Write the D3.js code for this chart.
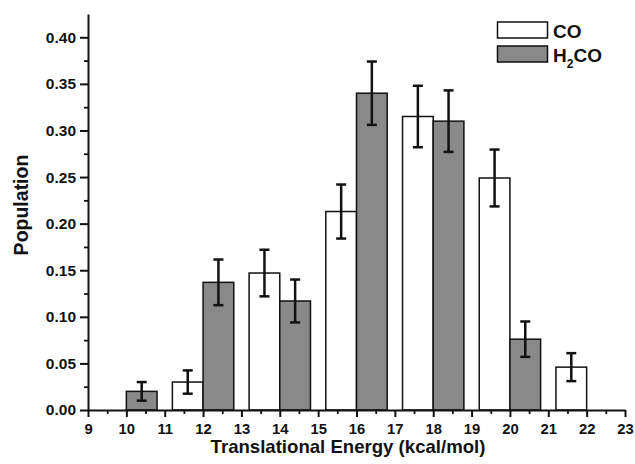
<!DOCTYPE html>
<html>
<head>
<meta charset="utf-8">
<script src="https://cdnjs.cloudflare.com/ajax/libs/d3/7.8.5/d3.min.js"></script>
<style>
  body { margin: 0; background: #fff; }
  svg { display: block; }
  text { font-family: "Liberation Sans", Arial, sans-serif; font-weight: bold; fill: #111; }
  .axis path.domain { stroke: #111; stroke-width: 2; }
  .axis .tick line { stroke: #111; stroke-width: 2; }
  .axis .tick text { font-size: 15.5px; }
  .axis.xa .tick text { font-size: 14.8px; }
  .minor path.domain { display: none; }
  .minor .tick line { stroke: #111; stroke-width: 1.8; }
</style>
</head>
<body>
<svg id="chart" width="635" height="464"></svg>
<script>
// bar centres (kcal/mol), populations and error half-widths
var coEnergy   = [11.6, 13.6, 15.6, 17.6, 19.6, 21.6];
var coPop      = [0.030, 0.147, 0.213, 0.315, 0.249, 0.046];
var coErr      = [0.0125, 0.025, 0.029, 0.033, 0.0305, 0.015];

var h2coEnergy = [10.4, 12.4, 14.4, 16.4, 18.4, 20.4];
var h2coPop    = [0.020, 0.137, 0.117, 0.340, 0.310, 0.076];
var h2coErr    = [0.010, 0.0245, 0.023, 0.034, 0.033, 0.019];

var xTicks = [9, 10, 11, 12, 13, 14, 15, 16, 17, 18, 19, 20, 21, 22, 23];
var yTicks = [0, 0.05, 0.10, 0.15, 0.20, 0.25, 0.30, 0.35, 0.40];
var barWidth = 0.8;

var svg = d3.select("#chart");

var x = d3.scaleLinear().domain([9, 23]).range([88, 625]);
var y = d3.scaleLinear().domain([0, 0.425]).range([410, 14]);

var series = [
  { name: "CO", fill: "#ffffff", energy: coEnergy, pop: coPop, err: coErr },
  { name: "H2CO", fill: "#898989", energy: h2coEnergy, pop: h2coPop, err: h2coErr }
];

series.forEach(s => {
  var rows = s.energy.map((e, i) => ({ e: e, v: s.pop[i], d: s.err[i] }));
  var g = svg.append("g");
  g.selectAll("rect").data(rows).enter().append("rect")
    .attr("x", d => x(d.e - barWidth / 2))
    .attr("width", d => x(d.e + barWidth / 2) - x(d.e - barWidth / 2))
    .attr("y", d => y(d.v))
    .attr("height", d => y(0) - y(d.v))
    .attr("fill", s.fill)
    .attr("stroke", "#111")
    .attr("stroke-width", 1.5);

  var eb = g.selectAll("g.err").data(rows).enter().append("g").attr("class", "err")
    .attr("stroke", "#111").attr("stroke-width", 2.5);
  eb.append("line")
    .attr("x1", d => x(d.e)).attr("x2", d => x(d.e))
    .attr("y1", d => y(d.v + d.d)).attr("y2", d => y(d.v - d.d));
  eb.append("line")
    .attr("x1", d => x(d.e) - 5).attr("x2", d => x(d.e) + 5)
    .attr("y1", d => y(d.v + d.d)).attr("y2", d => y(d.v + d.d));
  eb.append("line")
    .attr("x1", d => x(d.e) - 5).attr("x2", d => x(d.e) + 5)
    .attr("y1", d => y(d.v - d.d)).attr("y2", d => y(d.v - d.d));
});

// minor ticks
svg.append("g").attr("class", "minor")
  .attr("transform", "translate(0,410)")
  .call(d3.axisBottom(x).tickValues(d3.range(9.5, 23, 1)).tickSize(4).tickFormat(""));
svg.append("g").attr("class", "minor")
  .attr("transform", "translate(88,0)")
  .call(d3.axisLeft(y).tickValues(d3.range(0.025, 0.42, 0.05)).tickSize(4).tickFormat(""));

// major axes
svg.append("g").attr("class", "axis xa")
  .attr("transform", "translate(0,410)")
  .call(d3.axisBottom(x).tickValues(xTicks).tickSize(7).tickPadding(6).tickSizeOuter(0).tickFormat(d3.format("d")));
svg.append("g").attr("class", "axis")
  .attr("transform", "translate(88,0)")
  .call(d3.axisLeft(y).tickValues(yTicks).tickSize(8).tickPadding(4).tickSizeOuter(0).tickFormat(d3.format(".2f")));

// axis titles
svg.append("text")
  .attr("x", 348).attr("y", 453)
  .attr("text-anchor", "middle")
  .style("font-size", "18.6px")
  .text("Translational Energy (kcal/mol)");
svg.append("text")
  .attr("transform", "translate(28,205) rotate(-90)")
  .attr("text-anchor", "middle")
  .style("font-size", "19.5px")
  .text("Population");

// legend
var legend = svg.append("g");
series.forEach((s, i) => {
  var ly = 22 + i * 24;
  legend.append("rect")
    .attr("x", 497.5).attr("y", ly)
    .attr("width", 50).attr("height", 16)
    .attr("fill", s.fill).attr("stroke", "#111").attr("stroke-width", 1.5);
  var t = legend.append("text")
    .attr("x", 553).attr("y", ly + 15.5)
    .style("font-size", "19px");
  if (s.name === "H2CO") {
    t.append("tspan").text("H");
    t.append("tspan").attr("dy", 6).style("font-size", "12px").text("2");
    t.append("tspan").attr("dy", -6).text("CO");
  } else {
    t.text(s.name);
  }
});
</script>
</body>
</html>
